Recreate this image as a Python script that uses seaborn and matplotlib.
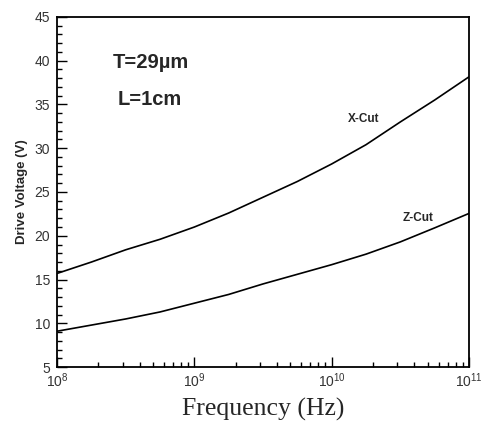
import numpy as np
import pandas as pd
import seaborn as sns
import matplotlib.pyplot as plt
from matplotlib.ticker import LogLocator, MultipleLocator

# values (log10 of frequency every quarter decade)
log_freq = [8.0, 8.25, 8.5, 8.75, 9.0, 9.25, 9.5, 9.75, 10.0, 10.25, 10.5, 10.75, 11.0]
x_cut = [15.7, 17.0, 18.4, 19.6, 21.0, 22.6, 24.4, 26.2, 28.2, 30.4, 33.0, 35.5, 38.15]
z_cut = [9.1, 9.8, 10.5, 11.3, 12.3, 13.3, 14.5, 15.6, 16.7, 17.9, 19.3, 20.9, 22.55]

freq = [10 ** v for v in log_freq]
df = pd.DataFrame({
    'freq': freq * 2,
    'volt': x_cut + z_cut,
    'cut': ['X-Cut'] * len(freq) + ['Z-Cut'] * len(freq),
})

sns.set_style('ticks')
plt.rcParams['font.family'] = ['Liberation Sans', 'DejaVu Sans']

fig = plt.figure(figsize=(4.84, 4.21), dpi=100)
ax = fig.add_axes([0.118, 0.128, 0.851, 0.832])

sns.lineplot(data=df, x='freq', y='volt', units='cut', estimator=None,
             color='black', linewidth=1.2, ax=ax, legend=False)

ax.set_xscale('log')
ax.set_xlim(1e8, 1e11)
ax.set_ylim(5, 45)
ax.yaxis.set_major_locator(MultipleLocator(5))
ax.yaxis.set_minor_locator(MultipleLocator(1))
ax.xaxis.set_major_locator(LogLocator(base=10, numticks=10))
ax.xaxis.set_minor_locator(LogLocator(base=10, subs=np.arange(2, 10), numticks=20))

ax.tick_params(which='both', direction='in', colors='black', labelcolor='#333333',
               labelsize=10, top=False, right=False, width=1)
ax.tick_params(which='major', length=7, pad=3)
ax.tick_params(axis='y', which='major', pad=5)
ax.tick_params(which='minor', length=3.5)
for s in ax.spines.values():
    s.set_linewidth(1.3)
    s.set_color('black')

ax.set_xlabel('Frequency (Hz)', family='Liberation Serif', fontsize=18.5, labelpad=6)
ax.set_ylabel('Drive Voltage (V)', fontsize=9.5, fontweight='bold', labelpad=5)

ax.text(0.136, 0.87, 'T=29µm', transform=ax.transAxes, fontsize=14.5,
        fontweight='bold', va='center', ha='left')
ax.text(0.148, 0.763, 'L=1cm', transform=ax.transAxes, fontsize=14.5,
        fontweight='bold', va='center', ha='left')
ax.text(10**10.23, 33.3, 'X-Cut', fontsize=8.5, fontweight='bold', ha='center', va='center')
ax.text(10**10.63, 22.0, 'Z-Cut', fontsize=8.5, fontweight='bold', ha='center', va='center')

fig.savefig('out.png', dpi=100)
